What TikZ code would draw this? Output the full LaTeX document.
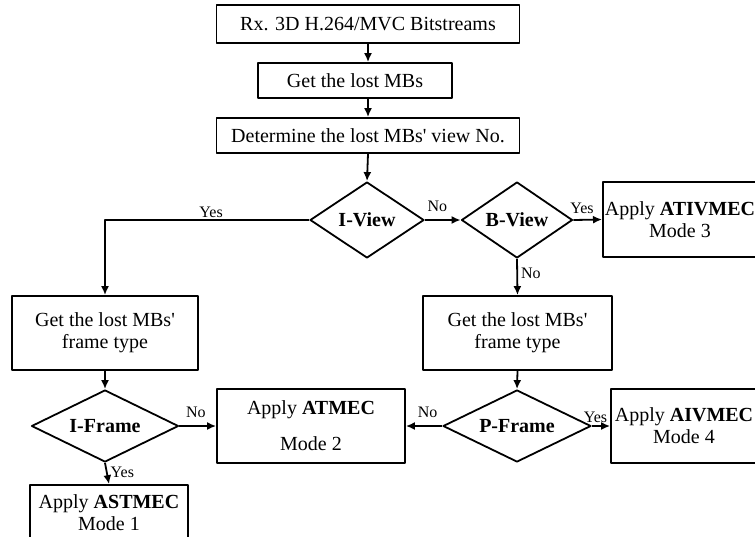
\documentclass[tikz,border=0pt]{standalone}
\usepackage{fontspec}
\setmainfont{Liberation Serif}
\usetikzlibrary{arrows.meta,shapes.geometric}

\begin{document}
\begin{tikzpicture}[x=1pt,y=-1pt,line join=round,line width=1.8pt,>={Latex[length=9pt,width=8pt]},
		blk/.style={draw,rectangle,align=center,inner sep=2pt,font=\fontsize{20}{22}\selectfont},
		dec/.style={draw,diamond,aspect=2,inner sep=0pt,font=\fontsize{20}{22}\selectfont\bfseries},
		lbl/.style={font=\fontsize{16}{18}\selectfont,inner sep=1pt}]
		\useasboundingbox (0,0) rectangle (755,536);
		% top chain
		\node[blk,minimum width=303pt,minimum height=38pt] (rx) at (368,24) {Rx. 3D H.264/MVC Bitstreams};
		\node[blk,minimum width=194pt,minimum height=35pt] (lost) at (355,80.5) {Get the lost MBs};
		\node[blk,minimum width=303pt,minimum height=35pt] (view) at (368,135.5) {Determine the lost MBs\textquotesingle{} view No.};
		% view decisions
		\node[dec,minimum width=114pt,minimum height=76pt] (iview) at (367,220) {I-View};
		\node[dec,minimum width=111pt,minimum height=76pt] (bview) at (517,220) {B-View};
		\node[blk,minimum width=150pt,minimum height=75pt] (m3) at (680,219.5) {Apply \textbf{ATIVMEC}\\Mode 3};
		\node[blk,minimum width=186pt,minimum height=74pt] (fl) at (105,333) {Get the lost MBs\textquotesingle\\frame type};
		\node[blk,minimum width=189pt,minimum height=74pt] (fr) at (517.5,333) {Get the lost MBs\textquotesingle\\frame type};
		% frame decisions
		\node[dec,minimum width=147pt,minimum height=72pt] (iframe) at (105,426) {I-Frame};
		\node[dec,minimum width=148pt,minimum height=72pt] (pframe) at (517,426) {P-Frame};
		\node[blk,minimum width=188pt,minimum height=74pt] (m2) at (311,426) {Apply \textbf{ATMEC}\\[14pt]Mode 2};
		\node[blk,minimum width=146pt,minimum height=74pt] (m4) at (684,426) {Apply \textbf{AIVMEC}\\Mode 4};
		\node[blk,minimum width=158pt,minimum height=56pt] (m1) at (109,513) {Apply \textbf{ASTMEC}\\Mode 1};
		% connectors
		\draw[->] (rx.south) -- (rx.south |- lost.north);
		\draw[->] (rx.south |- lost.south) -- (view.north);
		\draw[->] (view.south) -- (iview.north);
		\draw[->] (iview.west) -| (fl.north) node[lbl,pos=0.24,above]{Yes};
		\draw[->] (iview.east) -- (bview.west) node[lbl,pos=0.35,above=6pt]{No};
		\draw[->] (bview.east) -- (m3.west) node[lbl,pos=0.3,above=4pt]{Yes};
		\draw[->] (bview.south) -- (fr.north) node[lbl,pos=0.4,right=2pt]{No};
		\draw[->] (fl.south) -- (iframe.north);
		\draw[->] (fr.south) -- (pframe.north);
		\draw[->] (iframe.east) -- (m2.west) node[lbl,pos=0.45,above=6pt]{No};
		\draw[->] (iframe.south) -- (m1.north) node[lbl,pos=0.45,right=2pt]{Yes};
		\draw[->] (pframe.west) -- (m2.east) node[lbl,pos=0.4,above=6pt]{No};
		\draw[->] (pframe.east) -- (m4.west) node[lbl,pos=0.2,above=1pt]{Yes};
	\end{tikzpicture}
\end{document}
